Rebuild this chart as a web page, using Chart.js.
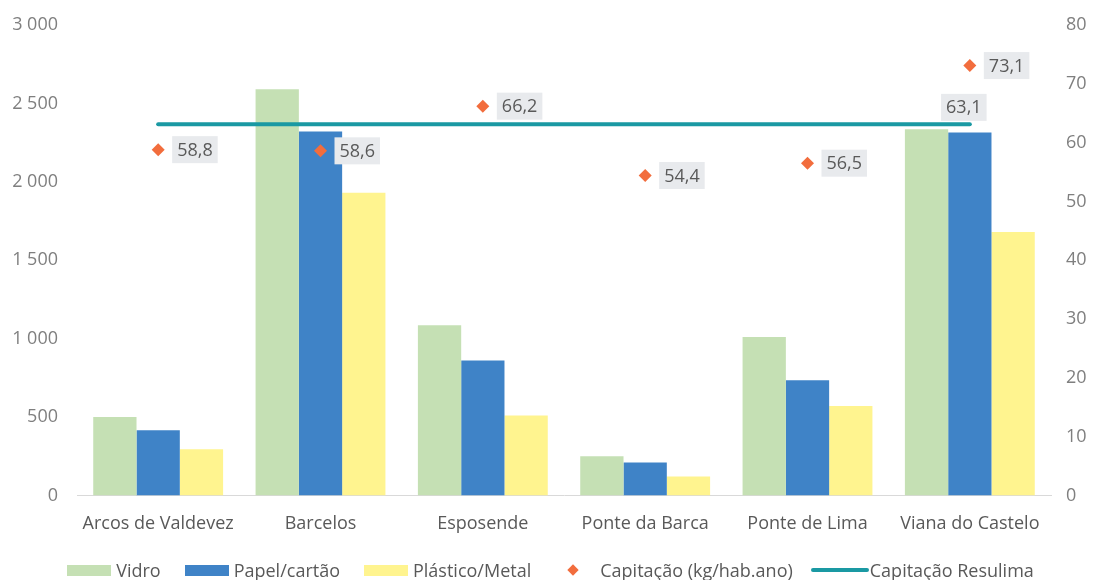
<!DOCTYPE html>
<html>
<head>
<meta charset="utf-8">
<script src="https://cdn.jsdelivr.net/npm/chart.js@4"></script>
<style>
  html, body { margin: 0; padding: 0; background: #fff; }
  #wrap { position: relative; width: 1101px; height: 580px; }
  #legend {
    position: absolute; left: 0; top: 558px; width: 1101px; height: 24px;
    display: flex; justify-content: center; align-items: center;
    font-family: "Open Sans", sans-serif; font-size: 18px; color: #595959;
  }
  .item { display: flex; align-items: center; margin: 0 12px; white-space: nowrap; }
  .box { width: 44px; height: 11px; margin-right: 5px; }
  .diamond { width: 8px; height: 8px; transform: rotate(45deg); margin: 0 23px 0 14px; }
  .line { width: 58px; height: 4px; border-radius: 2px; margin-right: 1px; }
  .item.last { margin-left: 6px; }
</style>
</head>
<body>
<div id="wrap">
  <canvas id="chart" width="1101" height="580"></canvas>
  <div id="legend"></div>
</div>
<script>
// Data
const municipios = ["Arcos de Valdevez", "Barcelos", "Esposende", "Ponte da Barca", "Ponte de Lima", "Viana do Castelo"];
const vidro = [500, 2590, 1085, 250, 1010, 2335];
const papelCartao = [415, 2320, 860, 210, 735, 2315];
const plasticoMetal = [295, 1930, 510, 120, 570, 1680];
const capitacao = [58.8, 58.6, 66.2, 54.4, 56.5, 73.1];
const capitacaoResulima = [63.1, 63.1, 63.1, 63.1, 63.1, 63.1];
const leftTicks = [0, 500, 1000, 1500, 2000, 2500, 3000];
const rightTicks = [0, 10, 20, 30, 40, 50, 60, 70, 80];

const colors = {
  vidro: '#C5E0B4',
  papel: '#3F83C7',
  plastico: '#FFF48F',
  capitacao: '#F26D3D',
  resulima: '#1A99A3',
  text: '#595959',
  axisText: '#7F7F7F'
};

const FONT = '"Open Sans", sans-serif';

function fmtComma(v) {
  return v.toFixed(1).replace('.', ',');
}

// Labels with grey boxes for the capitação series
const valueLabels = {
  id: 'valueLabels',
  afterDatasetsDraw(chart) {
    const ctx = chart.ctx;
    ctx.save();
    ctx.font = '18px ' + FONT;
    ctx.textBaseline = 'middle';

    const drawBox = (text, cx, cy, alignLeft) => {
      const w = ctx.measureText(text).width + 10;
      const h = 27;
      const x = alignLeft ? cx : cx - w / 2;
      ctx.fillStyle = '#E8EAED';
      ctx.fillRect(x, cy - h / 2, w, h);
      ctx.fillStyle = colors.text;
      ctx.textAlign = 'left';
      ctx.fillText(text, x + 5, cy + 1);
    };

    // point labels, to the right
    const meta = chart.getDatasetMeta(3);
    meta.data.forEach((pt, i) => {
      drawBox(fmtComma(capitacao[i]), pt.x + 14, pt.y, true);
    });

    // Resulima line label, above the last point
    const lmeta = chart.getDatasetMeta(4);
    const last = lmeta.data[lmeta.data.length - 1];
    drawBox(fmtComma(capitacaoResulima[capitacaoResulima.length - 1]), last.x - 6, last.y - 17, false);
    ctx.restore();
  }
};

const chart = new Chart(document.getElementById('chart'), {
  data: {
    labels: municipios,
    datasets: [
      { type: 'bar', label: 'Vidro', data: vidro, backgroundColor: colors.vidro, yAxisID: 'y', order: 3 },
      { type: 'bar', label: 'Papel/cartão', data: papelCartao, backgroundColor: colors.papel, yAxisID: 'y', order: 3 },
      { type: 'bar', label: 'Plástico/Metal', data: plasticoMetal, backgroundColor: colors.plastico, yAxisID: 'y', order: 3 },
      {
        type: 'line', label: 'Capitação (kg/hab.ano)', data: capitacao, yAxisID: 'y1',
        showLine: false, pointStyle: 'rectRot', pointRadius: 6.5, pointHoverRadius: 6.5,
        pointBackgroundColor: colors.capitacao, pointBorderColor: colors.capitacao, pointBorderWidth: 0,
        order: 1
      },
      {
        type: 'line', label: 'Capitação Resulima', data: capitacaoResulima, yAxisID: 'y1',
        borderColor: colors.resulima, borderWidth: 4, borderCapStyle: 'round',
        pointRadius: 0, pointHoverRadius: 0, fill: false, order: 2
      }
    ]
  },
  options: {
    responsive: false,
    animation: false,
    events: [],
    layout: { padding: { top: 25, bottom: 27, left: 0, right: 0 } },
    datasets: { bar: { categoryPercentage: 0.8, barPercentage: 1.0 } },
    plugins: {
      legend: { display: false },
      tooltip: { enabled: false }
    },
    scales: {
      x: {
        offset: true,
        grid: { display: false, drawTicks: false },
        border: { color: '#D9D9D9', width: 1 },
        ticks: { color: colors.text, font: { family: FONT, size: 18 }, padding: 18, maxRotation: 0 },
        afterFit: s => { s.paddingLeft = 0; s.paddingRight = 0; }
      },
      y: {
        position: 'left',
        min: 0, max: 3000,
        afterBuildTicks: axis => { axis.ticks = leftTicks.map(v => ({ value: v })); },
        afterFit: s => { s.width = 77; s.paddingTop = 0; s.paddingBottom = 0; },
        grid: { display: false, drawTicks: false },
        border: { display: false },
        ticks: {
          color: colors.axisText, font: { family: FONT, size: 18 }, padding: 19,
          callback: v => v.toLocaleString('en-US').replace(',', ' ')
        }
      },
      y1: {
        position: 'right',
        min: 0, max: 80,
        afterBuildTicks: axis => { axis.ticks = rightTicks.map(v => ({ value: v })); },
        afterFit: s => { s.width = 50; s.paddingTop = 0; s.paddingBottom = 0; },
        grid: { display: false, drawTicks: false },
        border: { display: false },
        ticks: { color: colors.axisText, font: { family: FONT, size: 18 }, padding: 15 }
      }
    }
  },
  plugins: [valueLabels]
});

// Legend built from the datasets
const legend = document.getElementById('legend');
const swatches = [
  { cls: 'box', color: colors.vidro },
  { cls: 'box', color: colors.papel },
  { cls: 'box', color: colors.plastico },
  { cls: 'diamond', color: colors.capitacao },
  { cls: 'line', color: colors.resulima }
];
chart.data.datasets.forEach((ds, i) => {
  const item = document.createElement('div');
  item.className = 'item' + (i === chart.data.datasets.length - 1 ? ' last' : '');
  const sw = document.createElement('span');
  sw.className = swatches[i].cls;
  sw.style.background = swatches[i].color;
  const txt = document.createElement('span');
  txt.textContent = ds.label;
  item.appendChild(sw);
  item.appendChild(txt);
  legend.appendChild(item);
});
</script>
</body>
</html>
